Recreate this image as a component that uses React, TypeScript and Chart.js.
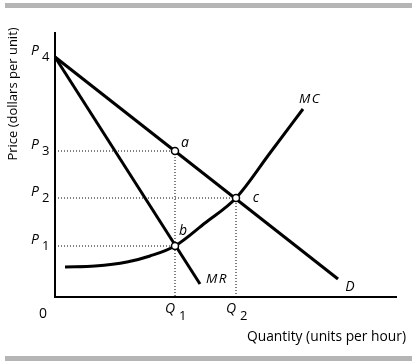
import React, { useEffect, useRef } from "react";
import { Chart, registerables } from "chart.js";

Chart.register(...registerables);

// ---- data (units: quantity on x, price on y) ----
const xMax = 341;
const yMax = 264;
const priceValues = [51, 99, 146, 240]; // P1..P4
const priceLabels = ["1", "2", "3", "4"];
const quantityValues = [120, 181]; // Q1, Q2
const quantityLabels = ["1", "2"];

const demandX = [0, 283];
const demandY = [240, 18];
const mrX = [0, 145];
const mrY = [240, 13];
const mcX = [10, 40, 72, 95, 120, 150, 181, 215, 248];
const mcY = [30, 31, 35, 41, 51, 74, 99, 144, 188];

const pointNames = ["a", "b", "c"];
const pointX = [120, 120, 181];
const pointY = [146, 51, 99];

const toXY = (xs: number[], ys: number[]) => xs.map((x, i) => ({ x, y: ys[i] }));

const FONT = "'Open Sans', 'DejaVu Sans', sans-serif";

const drawPlugin = {
  id: "econDecor",
  beforeDraw(chart: any) {
    const ctx = chart.ctx;
    ctx.save();
    ctx.fillStyle = "#b5b5b5";
    ctx.fillRect(5, 3, 407, 5);
    ctx.fillRect(5, 356, 407, 5);
    ctx.restore();
  },
  beforeDatasetsDraw(chart: any) {
    const ctx = chart.ctx;
    const xs = chart.scales.x;
    const ys = chart.scales.y;
    const x0 = xs.getPixelForValue(0);
    const y0 = ys.getPixelForValue(0);
    ctx.save();
    ctx.strokeStyle = "#000";
    ctx.lineWidth = 2;
    ctx.lineCap = "square";
    ctx.beginPath();
    ctx.moveTo(x0, ys.getPixelForValue(yMax));
    ctx.lineTo(x0, y0);
    ctx.lineTo(xs.getPixelForValue(xMax), y0);
    ctx.stroke();
    ctx.restore();
  },
  afterDraw(chart: any) {
    const ctx = chart.ctx;
    const xs = chart.scales.x;
    const ys = chart.scales.y;
    const x0 = xs.getPixelForValue(0);
    const y0 = ys.getPixelForValue(0);
    ctx.save();
    ctx.fillStyle = "#000";
    ctx.textAlign = "left";
    ctx.textBaseline = "alphabetic";

    // price tick labels
    priceValues.forEach((v, i) => {
      const py = ys.getPixelForValue(v);
      ctx.font = `italic 14px ${FONT}`;
      ctx.fillText("P", x0 - 24, py - 2);
      ctx.font = `13px ${FONT}`;
      ctx.fillText(priceLabels[i], x0 - 13, py + 4);
    });
    // quantity tick labels
    quantityValues.forEach((v, i) => {
      const px = xs.getPixelForValue(v);
      ctx.font = `italic 14px ${FONT}`;
      ctx.fillText("Q", px - 10, y0 + 16);
      ctx.font = `13px ${FONT}`;
      ctx.fillText(quantityLabels[i], px + 4, y0 + 23);
    });
    // origin
    ctx.font = `14px ${FONT}`;
    ctx.textAlign = "center";
    ctx.textBaseline = "middle";
    ctx.fillText("0", x0 - 12, y0 + 17);

    // point labels
    ctx.font = `italic 14px ${FONT}`;
    const offs = [
      [10, -8],
      [8, -15],
      [20, 0],
    ];
    pointNames.forEach((n, i) => {
      ctx.fillText(
        n,
        xs.getPixelForValue(pointX[i]) + offs[i][0],
        ys.getPixelForValue(pointY[i]) + offs[i][1]
      );
    });
    // curve labels
    const mcEnd = mcX.length - 1;
    ctx.font = `italic 13.5px ${FONT}`;
    (ctx as any).letterSpacing = "1.5px";
    ctx.fillText("MC", xs.getPixelForValue(mcX[mcEnd]) + 7, ys.getPixelForValue(mcY[mcEnd]) - 10);
    ctx.fillText("MR", xs.getPixelForValue(mrX[1]) + 17, ys.getPixelForValue(mrY[1]) - 5);
    (ctx as any).letterSpacing = "0px";
    ctx.font = `italic 14px ${FONT}`;
    ctx.fillText("D", xs.getPixelForValue(demandX[1]) + 12, ys.getPixelForValue(demandY[1]) + 8);

    // axis titles
    ctx.font = `13.8px ${FONT}`;
    ctx.textAlign = "right";
    ctx.textBaseline = "alphabetic";
    ctx.fillText("Quantity (units per hour)", 406, 341);

    ctx.font = `13px ${FONT}`;
    ctx.translate(13, 94);
    ctx.rotate(-Math.PI / 2);
    ctx.textAlign = "center";
    ctx.textBaseline = "middle";
    ctx.fillText("Price (dollars per unit)", 0, 0);
    ctx.restore();
  },
};

export default function App() {
  const ref = useRef<HTMLCanvasElement | null>(null);

  useEffect(() => {
    if (!ref.current) return;
    const dotted = {
      showLine: true,
      borderColor: "#000",
      borderWidth: 1,
      borderDash: [1, 2],
      pointRadius: 0,
      tension: 0,
    };
    const solid = {
      showLine: true,
      borderColor: "#000",
      borderWidth: 3,
      pointRadius: 0,
      tension: 0,
    };
    const chart = new Chart(ref.current, {
      type: "scatter",
      data: {
        datasets: [
          {
            label: "points",
            data: toXY(pointX, pointY),
            pointRadius: 3.5,
            pointBorderWidth: 1.5,
            pointBackgroundColor: "#fff",
            pointBorderColor: "#000",
            showLine: false,
          } as any,
          { label: "MC", data: toXY(mcX, mcY), ...solid, cubicInterpolationMode: "monotone" },
          { label: "D", data: toXY(demandX, demandY), ...solid },
          { label: "MR", data: toXY(mrX, mrY), ...solid },
          {
            label: "P3 guide",
            data: [
              { x: 0, y: priceValues[2] },
              { x: quantityValues[0], y: priceValues[2] },
              { x: quantityValues[0], y: 0 },
            ],
            ...dotted,
          },
          {
            label: "P2 guide",
            data: [
              { x: 0, y: priceValues[1] },
              { x: quantityValues[1], y: priceValues[1] },
              { x: quantityValues[1], y: 0 },
            ],
            ...dotted,
          },
          {
            label: "P1 guide",
            data: [
              { x: 0, y: priceValues[0] },
              { x: quantityValues[0], y: priceValues[0] },
            ],
            ...dotted,
          },
        ],
      },
      options: {
        animation: false,
        responsive: false,
        devicePixelRatio: 1,
        layout: { padding: { left: 55, right: 18, top: 33, bottom: 67 } },
        scales: {
          x: { type: "linear", min: 0, max: xMax, display: false },
          y: { type: "linear", min: 0, max: yMax, display: false },
        },
        plugins: { legend: { display: false }, tooltip: { enabled: false } },
        events: [],
      },
      plugins: [drawPlugin],
    } as any);
    return () => chart.destroy();
  }, []);

  return (
    <div style={{ position: "absolute", left: 0, top: 0, width: 414, height: 364, background: "#fff" }}>
      <canvas ref={ref} width={414} height={364} style={{ width: 414, height: 364 }} />
    </div>
  );
}
